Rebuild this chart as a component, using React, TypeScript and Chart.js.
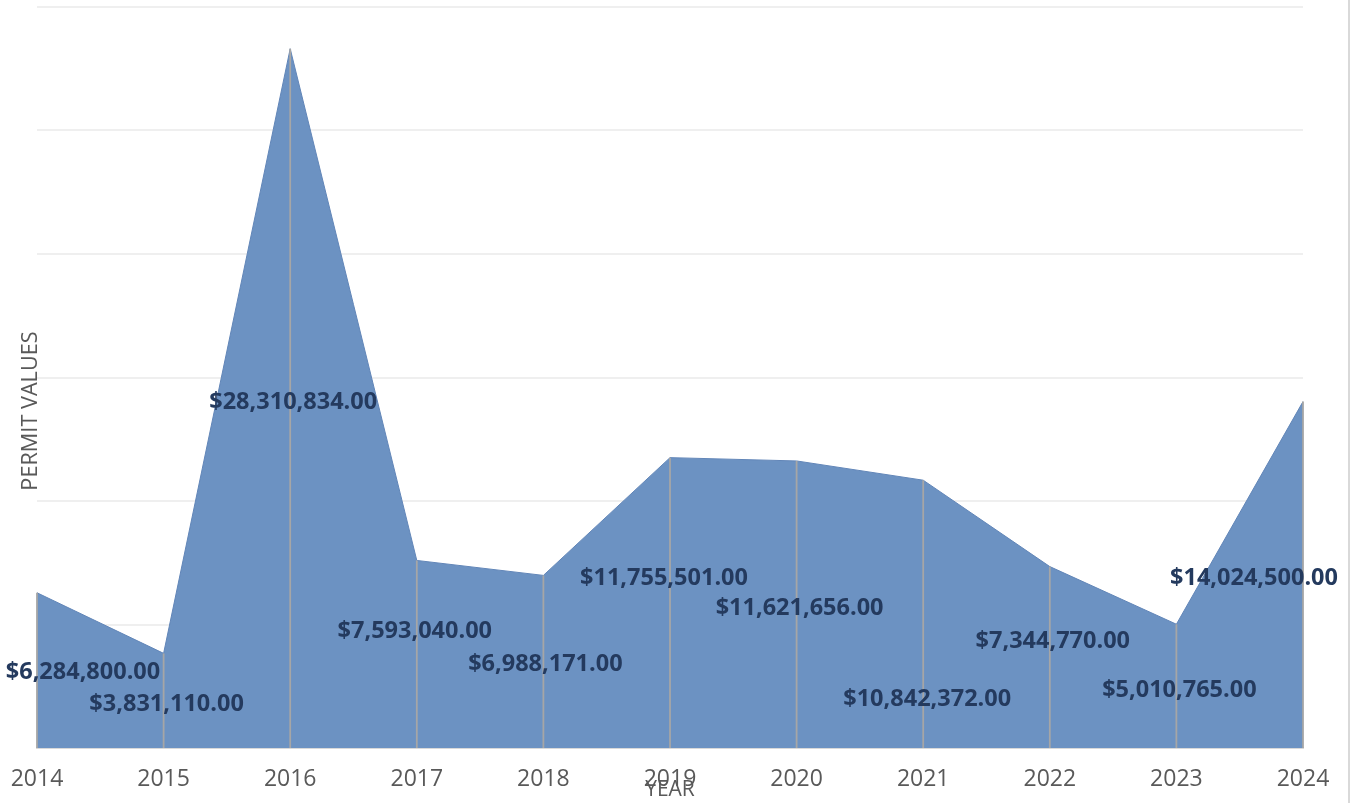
import React, { useEffect, useRef } from "react";
import { Chart, registerables } from "chart.js";

Chart.register(...registerables);

const years = ["2014", "2015", "2016", "2017", "2018", "2019", "2020", "2021", "2022", "2023", "2024"];
const permitValues = [6284800, 3831110, 28310834, 7593040, 6988171, 11755501, 11621656, 10842372, 7344770, 5010765, 14024500];
// label offsets (dx, dy) in pixels from each point, as placed in the original
const labelDx = [46, 3, 3, -2, 2, -6, 3, 4, 3, 3, -49];
const labelDy = [80, 51, 354, 71, 89, 121, 147, 219, 75, 66, 177];

const yMax = 30000000;
const yStep = 5000000;

const fmt = (v: number) =>
  "$" + v.toLocaleString("en-US", { minimumFractionDigits: 2, maximumFractionDigits: 2 });

const overlayPlugin = {
  id: "overlay",
  afterDatasetsDraw(chart: any) {
    const { ctx } = chart;
    const meta = chart.getDatasetMeta(0);
    const yScale = chart.scales.y;
    const base = yScale.getPixelForValue(0);
    ctx.save();
    // drop lines
    ctx.strokeStyle = "#A6A6A6";
    ctx.lineWidth = 1.8;
    meta.data.forEach((pt: any) => {
      ctx.beginPath();
      ctx.moveTo(pt.x, pt.y);
      ctx.lineTo(pt.x, base);
      ctx.stroke();
    });
    // data labels
    ctx.fillStyle = "#243A5E";
    ctx.font = "bold 23.5px 'Open Sans'";
    ctx.textAlign = "center";
    ctx.textBaseline = "middle";
    meta.data.forEach((pt: any, i: number) => {
      ctx.fillText(fmt(permitValues[i]), pt.x + labelDx[i], pt.y + labelDy[i]);
    });
    // y axis title
    ctx.fillStyle = "#595959";
    ctx.font = "21.7px 'Open Sans'";
    ctx.translate(31, 411);
    ctx.rotate(-Math.PI / 2);
    ctx.fillText("PERMIT VALUES", 0, 0);
    ctx.restore();
    // right frame line
    ctx.save();
    ctx.strokeStyle = "#D9D9D9";
    ctx.lineWidth = 2;
    ctx.beginPath();
    ctx.moveTo(chart.width - 5, 0);
    ctx.lineTo(chart.width - 5, chart.height);
    ctx.stroke();
    ctx.restore();
  },
};

export default function App() {
  const ref = useRef<HTMLCanvasElement>(null);
  useEffect(() => {
    if (!ref.current) return;
    const chart = new Chart(ref.current, {
      type: "line",
      data: {
        labels: years,
        datasets: [
          {
            data: permitValues,
            fill: "origin",
            backgroundColor: "rgb(108,146,194)",
            borderColor: "rgb(98,134,184)",
            borderWidth: 1,
            pointRadius: 0,
            tension: 0,
          },
        ],
      },
      options: {
        animation: false,
        responsive: false,
        layout: { autoPadding: false, padding: { top: 7, right: 51, left: 0, bottom: 0 } },
        plugins: { legend: { display: false }, tooltip: { enabled: false } },
        scales: {
          x: {
            offset: false,
            grid: { display: false, drawTicks: false },
            border: { display: true, color: "#D9D9D9", width: 2 },
            ticks: {
              color: "#595959",
              font: { family: "'Open Sans'", size: 23 },
              padding: 18,
              maxRotation: 0,
              autoSkip: false,
            },
            title: {
              display: true,
              text: "YEAR",
              color: "#595959",
              font: { family: "'Open Sans'", size: 21 },
              padding: { top: 0, bottom: 0 },
            },
            afterFit(scale: any) {
              scale.height = 55;
              scale.paddingLeft = 0;
              scale.paddingRight = 0;
            },
          },
          y: {
            min: 0,
            max: yMax,
            grid: { color: "#EFEFEF", lineWidth: 2, drawTicks: false },
            border: { display: false },
            ticks: { display: false, stepSize: yStep },
            afterFit(scale: any) {
              scale.width = 37;
            },
          },
        },
      },
      plugins: [overlayPlugin],
    });
    return () => chart.destroy();
  }, []);
  return (
    <div style={{ position: "fixed", left: 0, top: 0, width: 1354, height: 803, background: "#fff" }}>
      <canvas ref={ref} width={1354} height={803} />
    </div>
  );
}
